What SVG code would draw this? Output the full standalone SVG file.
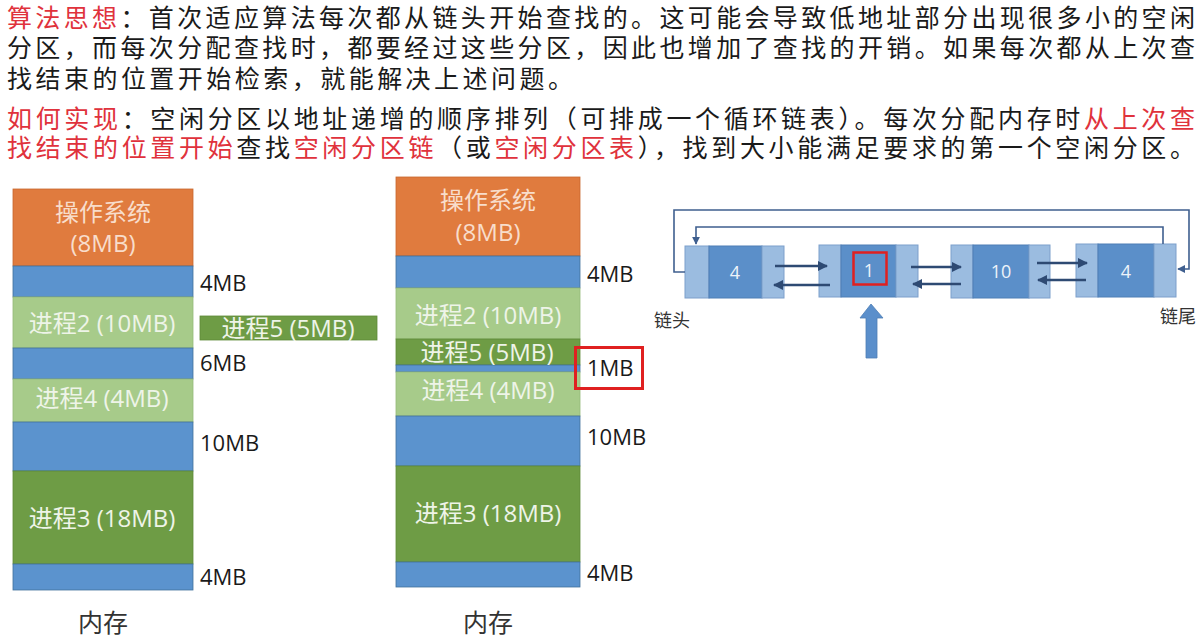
<svg xmlns="http://www.w3.org/2000/svg" width="1199" height="643" viewBox="0 0 1199 643">
<defs>
<style>
.body{font-family:"Noto Sans CJK SC","Noto Sans",sans-serif;font-size:25px;fill:#1a1a1a}
.red{fill:#E0323C}
.os{fill:#E07B3E;stroke:#C9682E;stroke-width:0.8}
.free{fill:#5B93CE;stroke:#41719C;stroke-width:0.8}
.p-light{fill:#A7CB8A;stroke:#94B878;stroke-width:0.8}
.p-dark{fill:#6E9C45;stroke:#5E8A38;stroke-width:0.8}
.blk{font-family:"Open Sans","Noto Sans CJK SC",sans-serif;font-size:24px;text-anchor:middle}
.blk-os{fill:#F8DDCB}
.blk-g{fill:#EEF4E8}
.lbl{font-family:"Open Sans","Noto Sans CJK SC",sans-serif;font-size:22px;fill:#1a1a1a}
.mem{font-family:"Noto Sans CJK SC",sans-serif;font-size:25px;fill:#333;text-anchor:middle}
.ptr{fill:#9BBCE0;stroke:#7C9FCB;stroke-width:1}
.dat{fill:#5B8FC9;stroke:#4F7FB5;stroke-width:1}
.ntxt{font-family:"Open Sans","Liberation Sans",sans-serif;font-size:18px;fill:#EEF3FA;text-anchor:middle}
.cap{font-family:"Noto Sans CJK SC",sans-serif;font-size:18px;fill:#333}
.link{fill:none;stroke:#2E4A73;stroke-width:2.5}
.loop{fill:none;stroke:#3F5F8F;stroke-width:1.6}
</style>
<marker id="ah" viewBox="0 0 10 10" refX="9" refY="5" markerWidth="4" markerHeight="4" orient="auto" markerUnits="strokeWidth">
<path d="M0,0 L10,5 L0,10 z" fill="#2E4A73"/>
</marker>
<marker id="ah2" viewBox="0 0 10 10" refX="9" refY="5" markerWidth="5" markerHeight="5" orient="auto" markerUnits="strokeWidth">
<path d="M0,0 L10,5 L0,10 z" fill="#3F5F8F"/>
</marker>
</defs>
<rect width="1199" height="643" fill="#ffffff"/>

<g id="description">
<text class="body" x="7" y="27" textLength="1188" lengthAdjust="spacing"><tspan class="red">算法思想</tspan>：首次适应算法每次都从链头开始查找的。这可能会导致低地址部分出现很多小的空闲</text>
<text class="body" x="7" y="57" textLength="1188" lengthAdjust="spacing">分区，而每次分配查找时，都要经过这些分区，因此也增加了查找的开销。如果每次都从上次查</text>
<text class="body" x="7" y="88" textLength="566" lengthAdjust="spacing">找结束的位置开始检索，就能解决上述问题。</text>
<text class="body" x="7" y="128" textLength="1188" lengthAdjust="spacing"><tspan class="red">如何实现</tspan>：空闲分区以地址递增的顺序排列（可排成一个循环链表）。每次分配内存时<tspan class="red">从上次查</tspan></text>
<text class="body" x="7" y="157" textLength="1188" lengthAdjust="spacing"><tspan class="red">找结束的位置开始</tspan>查找<tspan class="red">空闲分区链</tspan>（或<tspan class="red">空闲分区表</tspan>），找到大小能满足要求的第一个空闲分区。</text>
</g>

<g id="memory-before">
<rect class="os" x="13" y="189" width="180" height="77"/>
<rect class="free" x="13" y="266" width="180" height="31"/>
<rect class="p-light" x="13" y="297" width="180" height="51"/>
<rect class="free" x="13" y="348" width="180" height="31"/>
<rect class="p-light" x="13" y="379" width="180" height="43"/>
<rect class="free" x="13" y="422" width="180" height="49"/>
<rect class="p-dark" x="13" y="471" width="180" height="93"/>
<rect class="free" x="13" y="564" width="180" height="26"/>
<text class="blk blk-os" x="103" y="221">操作系统</text>
<text class="blk blk-os" x="103" y="252">(8MB)</text>
<text class="blk blk-g" x="102" y="332">进程2 (10MB)</text>
<text class="blk blk-g" x="102" y="407">进程4 (4MB)</text>
<text class="blk blk-g" x="102" y="527">进程3 (18MB)</text>
<text class="lbl" x="200" y="291">4MB</text>
<text class="lbl" x="200" y="371">6MB</text>
<text class="lbl" x="200" y="451">10MB</text>
<text class="lbl" x="200" y="585">4MB</text>
<text class="mem" x="103" y="632">内存</text>
</g>

<g id="process5">
<rect class="p-dark" x="200" y="316" width="177" height="24"/>
<text class="blk blk-g" x="288" y="337">进程5 (5MB)</text>
</g>

<g id="memory-after">
<rect class="os" x="396" y="177" width="184" height="79"/>
<rect class="free" x="396" y="256" width="184" height="32"/>
<rect class="p-light" x="396" y="288" width="184" height="51"/>
<rect class="p-dark" x="396" y="339" width="184" height="26"/>
<rect class="free" x="396" y="365" width="184" height="7"/>
<rect class="p-light" x="396" y="372" width="184" height="44"/>
<rect class="free" x="396" y="416" width="184" height="50"/>
<rect class="p-dark" x="396" y="466" width="184" height="96"/>
<rect class="free" x="396" y="562" width="184" height="25"/>
<text class="blk blk-os" x="488" y="209">操作系统</text>
<text class="blk blk-os" x="488" y="241">(8MB)</text>
<text class="blk blk-g" x="488" y="324">进程2 (10MB)</text>
<text class="blk blk-g" x="487" y="361">进程5 (5MB)</text>
<text class="blk blk-g" x="488" y="399">进程4 (4MB)</text>
<text class="blk blk-g" x="488" y="522">进程3 (18MB)</text>
<text class="lbl" x="587" y="282">4MB</text>
<text class="lbl" x="587" y="376">1MB</text>
<text class="lbl" x="587" y="445">10MB</text>
<text class="lbl" x="587" y="581">4MB</text>
<rect x="575.5" y="347.5" width="67" height="41" fill="none" stroke="#E02020" stroke-width="3"/>
<text class="mem" x="488" y="632">内存</text>
</g>

<g id="node1">
<rect class="ptr" x="685" y="246" width="24" height="52"/>
<rect class="dat" x="709" y="246" width="53" height="52"/>
<rect class="ptr" x="762" y="246" width="22" height="52"/>
<text class="ntxt" x="735" y="279">4</text>
</g>
<g id="node2">
<rect class="ptr" x="819" y="245" width="22" height="52"/>
<rect class="dat" x="841" y="245" width="55" height="52"/>
<rect class="ptr" x="896" y="245" width="22" height="52"/>
<rect x="853.5" y="252.5" width="33" height="32" fill="none" stroke="#E02020" stroke-width="2.5"/>
<text class="ntxt" x="869" y="277">1</text>
</g>
<g id="node3">
<rect class="ptr" x="951" y="245" width="22" height="53"/>
<rect class="dat" x="973" y="245" width="56" height="53"/>
<rect class="ptr" x="1029" y="245" width="21" height="53"/>
<text class="ntxt" x="1001" y="278">10</text>
</g>
<g id="node4">
<rect class="ptr" x="1076" y="244" width="22" height="53"/>
<rect class="dat" x="1098" y="244" width="56" height="53"/>
<rect class="ptr" x="1154" y="244" width="22" height="53"/>
<text class="ntxt" x="1126" y="278">4</text>
</g>
<g id="labels">
<text class="cap" x="654" y="327">链头</text>
<text class="cap" x="1160" y="323">链尾</text>
</g>

<g id="connectors">
<path class="link" d="M775,266 H827" marker-end="url(#ah)"/>
<path class="link" d="M830,285 H774" marker-end="url(#ah)"/>
<path class="link" d="M911,267 H961" marker-end="url(#ah)"/>
<path class="link" d="M961,284 H913" marker-end="url(#ah)"/>
<path class="link" d="M1037,263 H1087" marker-end="url(#ah)"/>
<path class="link" d="M1086,280 H1038" marker-end="url(#ah)"/>
<path class="loop" d="M685,272 H674 V210 H1189 V269 H1178" marker-end="url(#ah2)"/>
<path class="loop" d="M1163,244 V227 H696 V244" marker-end="url(#ah2)"/>
</g>

<g id="pointer">
<polygon points="871,304 883,318 877,318 877,358 866,358 866,318 860,318" fill="#5B8FCB" stroke="#4F7FB5" stroke-width="0.8"/>
</g>
</svg>
